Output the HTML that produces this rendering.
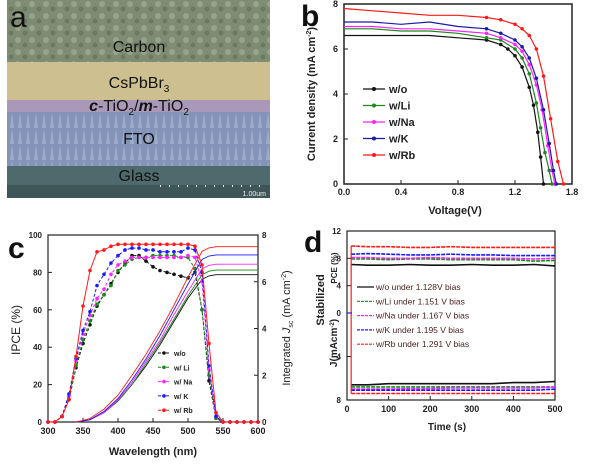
<!DOCTYPE html>
<html><head><meta charset="utf-8"><style>
body{margin:0;background:#fff;width:600px;height:460px;overflow:hidden}
svg{font-family:"Liberation Sans",sans-serif}
</style></head><body>
<svg id="s" width="600" height="460" viewBox="0 0 600 460" xmlns="http://www.w3.org/2000/svg">
<defs>
<pattern id="grain" width="14" height="12" patternUnits="userSpaceOnUse">
<circle cx="4" cy="4" r="3" fill="#a9b49a" opacity="0.6"/><circle cx="11" cy="9" r="2.4" fill="#5f6d55" opacity="0.6"/>
</pattern>
<pattern id="fto" width="8" height="16" patternUnits="userSpaceOnUse">
<path d="M2 16 L4 0 L6 16Z" fill="#b8c4e0" opacity="0.5"/>
</pattern>
</defs>
<!-- Panel a -->
<g>
<rect x="7" y="0" width="263" height="62" fill="#7f8c74"/>
<rect x="7" y="0" width="263" height="62" fill="url(#grain)"/>
<rect x="7" y="62" width="263" height="39" fill="#cdbf8f"/>
<rect x="7" y="100" width="263" height="12" fill="#a998b8"/>
<rect x="7" y="112" width="263" height="54" fill="#8494b8"/>
<rect x="7" y="112" width="263" height="54" fill="url(#fto)"/>
<rect x="7" y="166" width="263" height="19" fill="#4e6a6c"/>
<rect x="7" y="185" width="263" height="13" fill="#3e5658"/>
<text x="10" y="27" font-size="30" fill="#111">a</text>
<text x="139" y="52" font-size="16" text-anchor="middle" fill="#111">Carbon</text>
<text x="139" y="88" font-size="16" text-anchor="middle" fill="#111">CsPbBr<tspan font-size="10" dy="4">3</tspan></text>
<text x="139" y="111" font-size="16" text-anchor="middle" fill="#111"><tspan font-style="italic" font-weight="bold">c</tspan>-TiO<tspan font-size="10" dy="4">2</tspan><tspan dy="-4">/</tspan><tspan font-style="italic" font-weight="bold">m</tspan>-TiO<tspan font-size="10" dy="4">2</tspan></text>
<text x="139" y="144" font-size="16" text-anchor="middle" fill="#111">FTO</text>
<text x="139" y="181" font-size="16" text-anchor="middle" fill="#111">Glass</text>
<line x1="160" y1="186" x2="266" y2="186" stroke="#ddd" stroke-dasharray="1 8" stroke-width="2"/>
<text x="266" y="196" font-size="7" fill="#eee" text-anchor="end">1.00um</text>
</g>
<g id="pb"></g><g id="pc"></g><g id="pd"></g>
</svg>
<script>
// ---------- Panel b data ----------
const bSeries = ["w/o","w/Li","w/Na","w/K","w/Rb"];
const bColors = ["#111","#1a8a1a","#ff22ff","#1a1aaa","#ff1a1a"];
const bV = [
 [0,0.2,0.4,0.6,0.8,1.0,1.1,1.15,1.2,1.25,1.3,1.33,1.36,1.38,1.40],
 [0,0.2,0.4,0.6,0.8,1.0,1.1,1.2,1.25,1.3,1.35,1.38,1.41,1.44,1.46],
 [0,0.2,0.4,0.6,0.8,1.0,1.1,1.2,1.25,1.3,1.35,1.39,1.43,1.46,1.48],
 [0,0.2,0.4,0.6,0.8,1.0,1.1,1.2,1.25,1.3,1.35,1.40,1.44,1.47,1.49],
 [0,0.2,0.4,0.6,0.8,1.0,1.1,1.2,1.25,1.3,1.35,1.40,1.45,1.50,1.54]];
const bJ = [
 [6.6,6.6,6.6,6.6,6.5,6.4,6.2,6.0,5.7,5.2,4.3,3.5,2.3,1.2,0],
 [6.9,6.9,6.8,6.8,6.7,6.5,6.4,6.0,5.6,4.9,3.6,2.5,1.4,0.6,0],
 [7.0,7.0,6.9,6.9,6.8,6.7,6.5,6.2,5.9,5.3,4.4,3.3,1.7,0.6,0],
 [7.2,7.2,7.1,7.2,7.0,6.9,6.7,6.4,6.1,5.6,4.7,3.3,1.8,0.6,0],
 [7.8,7.7,7.6,7.5,7.5,7.4,7.3,7.1,6.9,6.6,6.0,4.8,2.9,1.0,0]];
const bXTicks = ["0.0","0.4","0.8","1.2","1.8"];
const bYTicks = [0,2,4,6,8];

// ---------- Panel c data ----------
const cWl = [300,310,320,330,340,350,360,370,380,390,400,410,420,430,440,450,460,470,480,490,500,510,520,530,540,550,560,570,580,590,600];
const cSeries = ["w/o","w/ Li","w/ Na","w/ K","w/ Rb"];
const cColors = ["#111","#1a8a1a","#ff22ff","#1a1aff","#ff1a1a"];
const cIPCE = [
 [0,0,3,12,29,42,52,62,68,74,80,85,89,89,86,83,81,80,79,78,77,80,60,22,2,0,0,0,0,0,0],
 [0,0,3,12,30,44,54,63,68,73,81,84,87,88,88,89,89,89,89,88,88,82,60,25,2,0,0,0,0,0,0],
 [0,0,3,14,33,47,57,66,71,79,84,86,88,88,88,88,88,88,88,88,89,88,75,28,3,0,0,0,0,0,0],
 [0,0,3,15,34,49,59,73,79,85,89,92,93,93,92,92,91,91,91,91,93,92,80,30,3,0,0,0,0,0,0],
 [0,0,3,12,35,62,81,91,92,94,95,95,95,95,95,95,95,95,95,95,95,94,84,42,5,0,0,0,0,0,0]];
const cIntWl = [340,360,380,400,420,440,460,480,500,520,530,540,600];
const cInt = [
 [0,0.1,0.4,0.9,1.6,2.4,3.3,4.3,5.3,6.1,6.25,6.3,6.3],
 [0,0.1,0.4,0.9,1.6,2.5,3.4,4.4,5.4,6.3,6.45,6.5,6.5],
 [0,0.1,0.4,0.95,1.7,2.6,3.5,4.6,5.6,6.55,6.7,6.75,6.75],
 [0,0.1,0.45,1.0,1.8,2.7,3.7,4.8,5.9,6.95,7.1,7.15,7.15],
 [0,0.15,0.55,1.15,2.0,2.9,3.9,5.0,6.2,7.3,7.45,7.5,7.5]];
const cXTicks = [300,350,400,450,500,550,600];
const cXTickLabels = ["300","350","400","450","500","550","600"];
const cYTicks = [0,20,40,60,80,100];
const cYTickLabels = ["0","20","40","60","80","100"];
const cY2Ticks = [0,2,4,6,8];

// ---------- Panel d data ----------
const dSeries = ["w/o under 1.128V bias","w/Li under 1.151 V bias","w/Na under 1.167 V  bias","w/K under 1.195 V bias","w/Rb under 1.291 V  bias"];
const dColors = ["#111","#1a8a1a","#ff22ff","#1a1aff","#ff1a1a"];
const dT = [10,50,100,150,200,250,300,350,400,450,500];
const dPCE = [
 [7.1,7.0,7.0,7.1,7.0,7.0,7.1,7.0,7.0,7.1,6.9],
 [7.9,7.9,7.8,7.9,7.9,7.8,7.8,7.8,7.8,7.6,7.7],
 [8.1,8.1,8.0,8.0,8.1,8.0,8.0,8.0,8.0,7.9,8.0],
 [8.6,8.7,8.6,8.5,8.5,8.6,8.5,8.5,8.4,8.4,8.4],
 [9.8,9.7,9.7,9.6,9.6,9.7,9.6,9.6,9.6,9.6,9.6]];
const dJ = [
 [6.6,6.6,6.5,6.5,6.5,6.5,6.5,6.5,6.4,6.4,6.3],
 [6.8,6.8,6.8,6.8,6.8,6.8,6.8,6.8,6.8,6.8,6.8],
 [7.0,7.0,7.0,6.95,6.95,6.9,6.9,6.9,6.9,6.9,6.8],
 [7.1,7.1,7.1,7.1,7.1,7.1,7.1,7.1,7.1,7.1,7.0],
 [7.4,7.4,7.4,7.4,7.4,7.4,7.4,7.4,7.4,7.4,7.4]];
const dXTicks = [0,100,200,300,400,500];

const NS = "http://www.w3.org/2000/svg";
function mk(parent, tag, attrs, text){
  const e = document.createElementNS(NS, tag);
  for (const k in attrs) e.setAttribute(k, attrs[k]);
  if (text !== undefined) e.textContent = text;
  parent.appendChild(e);
  return e;
}
function pathFrom(xs, ys, fx, fy){
  return xs.map((x,i)=>(i?"L":"M")+fx(x).toFixed(1)+" "+fy(ys[i]).toFixed(1)).join(" ");
}

// ---------- Draw b ----------
(function(){
  const g = document.getElementById("pb");
  const L=344,R=572,T=4,B=184;
  const x = v => L + v/1.6*(R-L);
  const y = v => B - v/8*(B-T);
  let e = mk(g,"rect",{x:L,y:T,width:R-L,height:B-T,fill:"none",stroke:"#222","stroke-width":1.5});
   
  bXTicks.forEach((t,i)=>{
    const px = x(i*0.4);
    mk(g,"line",{x1:px,y1:B,x2:px,y2:B-4,stroke:"#222"});
    e = mk(g,"text",{x:px,y:B+11,"font-size":9,"font-weight":"bold","text-anchor":"middle",fill:"#222"},t);
     
  });
  bYTicks.forEach(t=>{
    mk(g,"line",{x1:L,y1:y(t),x2:L+4,y2:y(t),stroke:"#222"});
    e = mk(g,"text",{x:L-6,y:y(t)+3,"font-size":9,"font-weight":"bold","text-anchor":"end",fill:"#222"},t);
     
  });
  bSeries.forEach((s,i)=>{
    e = mk(g,"path",{d:pathFrom(bV[i],bJ[i],x,y),fill:"none",stroke:bColors[i],"stroke-width":1.2});
     
    bV[i].forEach((v,k)=>{ if(k>=5){ const m=mk(g,"circle",{cx:x(v),cy:y(bJ[i][k]),r:1.8,fill:bColors[i]});
        }});
    const ly = 89 + i*16.5;
    e = mk(g,"line",{x1:363,y1:ly,x2:385,y2:ly,stroke:bColors[i],"stroke-width":1.2});
     
    mk(g,"circle",{cx:374,cy:ly,r:2,fill:bColors[i]});
    e = mk(g,"text",{x:389,y:ly+4,"font-size":11,"font-weight":"bold",fill:"#222"},s);
     
  });
  e = mk(g,"text",{x:455,y:214,"font-size":11,"font-weight":"bold","text-anchor":"middle",fill:"#222"},"Voltage(V)");
   
  e = mk(g,"text",{x:0,y:0,"font-size":11,"font-weight":"bold","text-anchor":"middle",fill:"#222",transform:"translate(315,94) rotate(-90)"});
  e.innerHTML = 'Current density (mA cm<tspan dy="-4" font-size="7">-2</tspan><tspan dy="4">)</tspan>';
   
  e = mk(g,"text",{x:301,y:26,"font-size":30,"font-weight":"bold",fill:"#111"},"b");
   
})();

// ---------- Draw c ----------
(function(){
  const g = document.getElementById("pc");
  const L=48,R=258,T=235,B=422;
  const x = v => L + (v-300)/300*(R-L);
  const y = v => B - v/100*(B-T);
  const y2 = v => B - v/8*(B-T);
  let e = mk(g,"rect",{x:L,y:T,width:R-L,height:B-T,fill:"none",stroke:"#222","stroke-width":1.2});
   
  cXTicks.forEach((t,i)=>{
    mk(g,"line",{x1:x(t),y1:B,x2:x(t),y2:B-4,stroke:"#222"});
    e = mk(g,"text",{x:x(t),y:B+12,"font-size":9,"font-weight":"bold","text-anchor":"middle",fill:"#222"},cXTickLabels[i]);
     
  });
  cYTicks.forEach((t,i)=>{
    mk(g,"line",{x1:L,y1:y(t),x2:L+4,y2:y(t),stroke:"#222"});
    e = mk(g,"text",{x:L-6,y:y(t)+3,"font-size":8,"font-weight":"bold","text-anchor":"end",fill:"#222"},cYTickLabels[i]);
     
  });
  cY2Ticks.forEach(t=>{
    mk(g,"line",{x1:R,y1:y2(t),x2:R-4,y2:y2(t),stroke:"#222"});
    e = mk(g,"text",{x:R+4,y:y2(t)+3,"font-size":8,"font-weight":"bold",fill:"#222"},t);
     
  });
  cSeries.forEach((s,i)=>{
    e = mk(g,"path",{d:pathFrom(cWl,cIPCE[i],x,y),fill:"none",stroke:cColors[i],"stroke-width":1,"stroke-dasharray":i===4?"none":"3 2"});
     
    cWl.forEach((w,k)=>{ const m=mk(g,"circle",{cx:x(w),cy:y(cIPCE[i][k]),r:1.8,fill:cColors[i]});
        });
    e = mk(g,"path",{d:pathFrom(cIntWl,cInt[i],x,y2),fill:"none",stroke:cColors[i],"stroke-width":0.9});
     
    const ly = 353 + i*14.3;
    e = mk(g,"line",{x1:158,y1:ly,x2:170,y2:ly,stroke:cColors[i],"stroke-dasharray":"3 1"});
     
    mk(g,"circle",{cx:164,cy:ly,r:1.8,fill:cColors[i]});
    e = mk(g,"text",{x:174,y:ly+3,"font-size":7,"font-weight":"bold",fill:"#222"},s);
     
  });
  e = mk(g,"text",{x:153,y:455,"font-size":11,"font-weight":"bold","text-anchor":"middle",fill:"#222"},"Wavelength (nm)");
   
  e = mk(g,"text",{x:0,y:0,"font-size":12,"text-anchor":"middle",fill:"#222",transform:"translate(20,330) rotate(-90)"},"IPCE (%)");
   
  e = mk(g,"text",{x:0,y:0,"font-size":11,"text-anchor":"middle",fill:"#222",transform:"translate(290,328) rotate(-90)"});
  e.innerHTML = 'Integrated <tspan font-style="italic">J</tspan><tspan font-size="7" dy="3">sc</tspan><tspan dy="-3"> (mA cm</tspan><tspan dy="-4" font-size="7">-2</tspan><tspan dy="4">)</tspan>';
   
  e = mk(g,"text",{x:8,y:258,"font-size":30,"font-weight":"bold",fill:"#111"},"c");
   
})();

// ---------- Draw d ----------
(function(){
  const g = document.getElementById("pd");
  const L=347,R=555,T=231,B=400,Z=313;
  const x = v => L + v/500*(R-L);
  const yP = v => Z - v*(Z-T)/12;
  const yJ = v => Z + v*(B-Z)/8;
  let e = mk(g,"rect",{x:L,y:T,width:R-L,height:B-T,fill:"none",stroke:"#222","stroke-width":1.2});
   
  dXTicks.forEach(t=>{
    mk(g,"line",{x1:x(t),y1:B,x2:x(t),y2:B-4,stroke:"#222"});
    e = mk(g,"text",{x:x(t),y:B+12,"font-size":9,"font-weight":"bold","text-anchor":"middle",fill:"#222"},t);
     
  });
  [[12,yP(12)],[8,yP(8)],[4,yP(4)],[0,Z],[4,yJ(4)],[8,yJ(8)]].forEach(p=>{
    mk(g,"line",{x1:L,y1:p[1],x2:L+4,y2:p[1],stroke:"#222"});
    e = mk(g,"text",{x:L-6,y:p[1]+3,"font-size":8,"font-weight":"bold","text-anchor":"end",fill:"#222"},p[0]);
     
  });
  dSeries.forEach((s,i)=>{
    e = mk(g,"path",{d:pathFrom(dT,dPCE[i],x,yP),fill:"none",stroke:dColors[i],"stroke-width":1.6,"stroke-dasharray":i===0?"none":"4 1"});
     
    e = mk(g,"path",{d:pathFrom(dT,dJ[i],x,yJ),fill:"none",stroke:dColors[i],"stroke-width":1.6,"stroke-dasharray":i===0?"none":"4 1"});
     
    const ly = 287 + i*14.3;
    e = mk(g,"line",{x1:357,y1:ly,x2:374,y2:ly,stroke:dColors[i],"stroke-width":1.2,"stroke-dasharray":i===0?"none":"3 1"});
     
    e = mk(g,"text",{x:376,y:ly+3,"font-size":8.5,fill:"#4a2222"},s);
     
  });
  e = mk(g,"line",{x1:x(dT[0]),y1:yP(dPCE[4][0]),x2:x(dT[0]),y2:yJ(dJ[4][0]),stroke:"#ff1a1a","stroke-width":1.2});
   
  mk(g,"line",{x1:L,y1:Z,x2:L+5,y2:Z,stroke:"#1a1aff","stroke-width":1.2});
  e = mk(g,"text",{x:447,y:430,"font-size":10,"font-weight":"bold","text-anchor":"middle",fill:"#222"},"Time (s)");
   
  e = mk(g,"text",{x:0,y:0,"font-size":11,"font-weight":"bold","text-anchor":"middle",fill:"#222",transform:"translate(324,300) rotate(-90)"},"Stabilized");
   
  e = mk(g,"text",{x:0,y:0,"font-size":8,"font-weight":"bold","text-anchor":"middle",fill:"#222",transform:"translate(337,268) rotate(-90)"},"PCE (%)");
   
  e = mk(g,"text",{x:0,y:0,"font-size":10,"font-weight":"bold","text-anchor":"middle",fill:"#222",transform:"translate(337,343) rotate(-90)"});
  e.innerHTML = 'J(mAcm<tspan dy="-3" font-size="6">-2</tspan><tspan dy="3">)</tspan>';
   
  e = mk(g,"text",{x:304,y:252,"font-size":30,"font-weight":"bold",fill:"#111"},"d");
   
})();
</script>
</body></html>
